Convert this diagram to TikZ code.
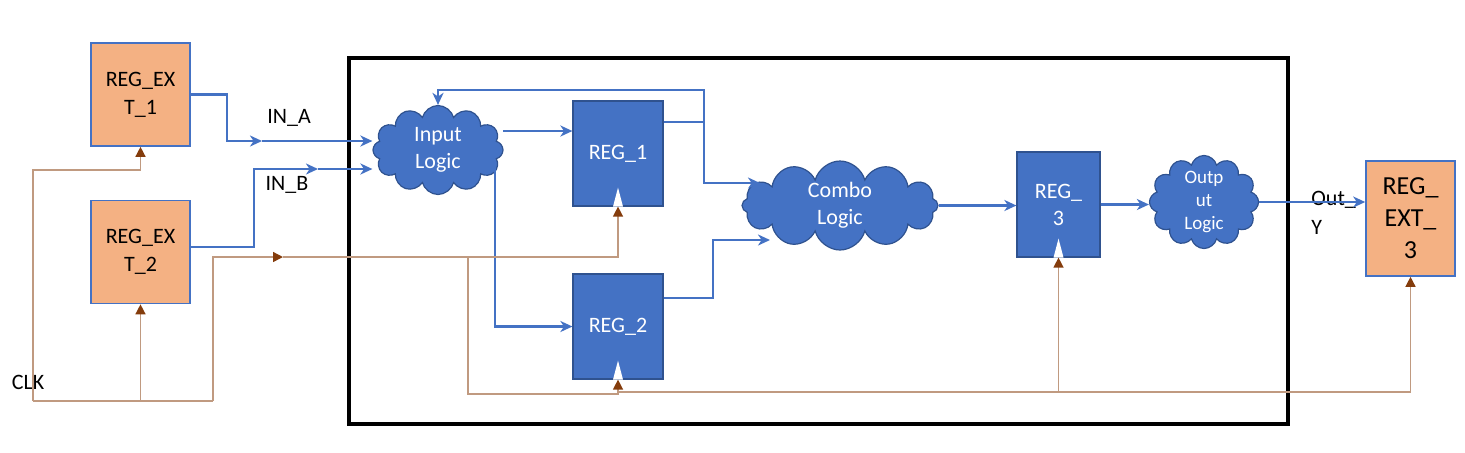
\documentclass[tikz,border=0pt]{standalone}
\usepackage{fontspec}
\setmainfont{Carlito}
\usetikzlibrary{arrows.meta,shapes.symbols}

\definecolor{extfill}{HTML}{F4B183}
\definecolor{regblue}{HTML}{4472C4}
\definecolor{regedge}{HTML}{2F528F}
\definecolor{clkline}{HTML}{C09A80}
\definecolor{clkhead}{HTML}{843C0C}

\tikzset{
  extreg/.style={draw=regblue,line width=0.8pt,fill=extfill,align=center,inner sep=0pt,
    minimum width=49.5pt,minimum height=51.5pt,font=\fontsize{11}{14}\selectfont},
  intreg/.style={draw=regedge,line width=0.6pt,fill=regblue,text=white,align=center,inner sep=0pt,
    minimum width=45pt,minimum height=52.5pt,font=\fontsize{11}{13.5}\selectfont},
  logic/.style={cloud,cloud puffs=12,cloud ignores aspect,draw=regedge,line width=0.6pt,
    fill=regblue,text=white,align=center,inner sep=-3pt,font=\fontsize{11}{13.5}\selectfont},
  sig/.style={regblue,line width=1.3pt,-{Stealth[length=6pt,width=5.5pt,inset=1.8pt]}},
  wire/.style={regblue,line width=1.3pt},
  clk/.style={clkline,line width=0.7pt,-{Triangle[length=5pt,width=5pt,color=clkhead]}},
  lbl/.style={font=\fontsize{11}{14.5}\selectfont,inner sep=0pt,align=left},
}

\begin{document}
\begin{tikzpicture}[x=0.5pt,y=-0.5pt]
  \useasboundingbox (0,0) rectangle (1465,452);

  % external registers
  \node[extreg] (extA) at (140.5,94.5) {REG\_EX\\T\_1};
  \node[extreg] (extB) at (140.5,252) {REG\_EX\\T\_2};
  \node[extreg,minimum width=44.5pt,minimum height=57.5pt,font=\fontsize{13}{16}\selectfont]
    (extC) at (1410.5,218.5) {REG\_\\EXT\_\\3};

  % design block
  \draw[line width=1.6pt] (349,58) rectangle (1288,424);

  \node[logic,minimum width=65pt,minimum height=44.5pt] (inlogic) at (438,150) {Input\\Logic};
  \node[intreg] (reg1) at (618,153.5) {REG\_1};
  \node[intreg] (reg2) at (618,326.5) {REG\_2};
  \node[logic,minimum width=98pt,minimum height=44.5pt] (combo) at (840,205.5) {Combo\\Logic};
  \node[intreg,minimum width=41.5pt] (reg3) at (1058.5,204.5) {REG\_\\3};
  \node[logic,minimum width=54.5pt,minimum height=46.5pt,inner sep=-5pt,font=\fontsize{9.5}{11.3}\selectfont]
    (outlogic) at (1204,202) {Outp\\ut\\Logic};

  % clock marks
  \foreach \r in {reg1,reg2,reg3}
    \fill[white] ([xshift=-2.5pt]\r.south) -- ([xshift=2.5pt]\r.south) -- ([yshift=9.5pt]\r.south) -- cycle;

  % labels
  \node[lbl] (inAlbl) at (289,118) {IN\_A};
  \node[lbl] (inBlbl) at (287,185) {IN\_B};
  \node[lbl] (clklbl) at (28,382) {CLK};
  \node[lbl,anchor=west] (outlbl) at (1311,213) {Out\_\\Y};

  % inputs
  \coordinate (inA1) at (227,141);
  \coordinate (inA2) at (262,141);
  \coordinate (inB1) at (254,169);
  \coordinate (inB2) at (318,169);
  \draw[sig] (extA.east) -| (inA1) -- (inA2);
  \draw[sig] (inA2) -- (inA2 -| inlogic.west);
  \draw[sig] ([yshift=2.5pt]extB.east) -| (inB1) -- (inB2);
  \draw[sig] (inB2) -- (inB2 -| inlogic.west);

  % data path
  \coordinate (il1) at (503,131);
  \coordinate (il2) at (495,168);
  \draw[sig] (il1) -- (il1 -| reg1.west);
  \draw[sig] (il2) |- (reg2.west);

  \coordinate (fb) at (704,122);
  \draw[wire] (reg1.east |- fb) -- (fb);
  \draw[sig] (fb) -- (704,90) -| (inlogic.north);
  \draw[sig] (fb) |- (760,183);
  \draw[sig] (reg2.east |- 0,298) -| (713,240) -- (770,240);

  \draw[sig] (combo.east) -- (combo.east -| reg3.west);
  \draw[sig] (reg3.east) -- (reg3.east -| outlogic.west);
  \draw[sig] (outlogic.east) -- (outlogic.east -| extC.west);

  % clock tree
  \coordinate (clkL) at (33,401);
  \coordinate (clkR) at (213,401);
  \coordinate (k1) at (283,257);
  \coordinate (k2) at (468,257);
  \draw[clkline,line width=0.7pt] (clkL) -- (clkR);
  \draw[clk] (clkL) -- (33,170) -| (extA.south);
  \draw[clk] (extB.south |- clkL) -- (extB.south);
  \draw[clk] (clkR) |- (k1);
  \draw[clk] (k1) -| (reg1.south);
  \draw[clk] (k2) |- (reg2.south |- 0,394) -- (reg2.south);
  \draw[clk] (reg2.south |- 0,392) -| (reg3.south);
  \draw[clk] (reg3.south |- 0,392) -| (extC.south);

\end{tikzpicture}
\end{document}
